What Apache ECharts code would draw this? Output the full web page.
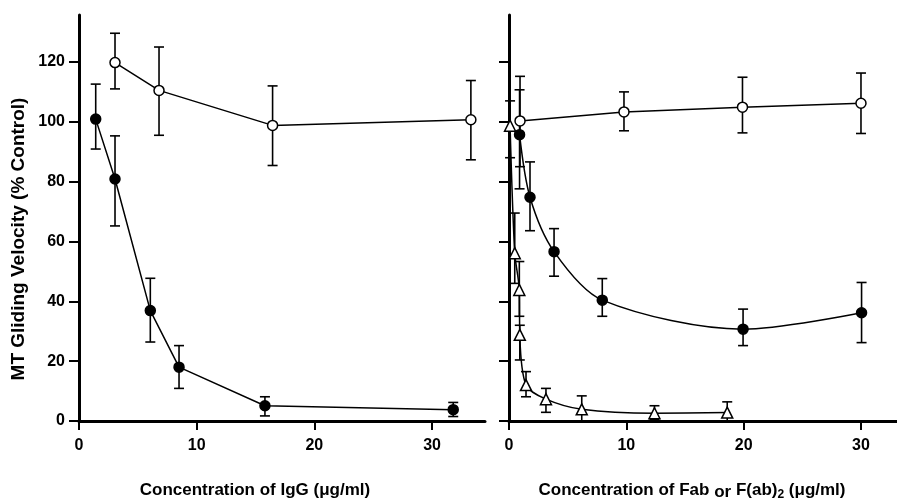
<!DOCTYPE html>
<html>
<head>
<meta charset="utf-8">
<script src="https://cdn.jsdelivr.net/npm/echarts@6/dist/echarts.min.js"></script>
<style>
  html, body { margin: 0; padding: 0; background: #fff; }
  #chart { width: 897px; height: 500px; }
</style>
</head>
<body>
<div id="chart"></div>
<script>
// left panel: IgG
const iggCtrlX = [3.06, 6.8, 16.45, 33.3];
const iggCtrlY = [119.8, 110.5, 98.8, 100.7];
const iggCtrlHi = [129.6, 125, 112, 113.8];
const iggCtrlLo = [111, 95.5, 85.4, 87.3];

const iggAntiX = [1.42, 3.06, 6.06, 8.5, 15.8, 31.8];
const iggAntiY = [100.9, 80.9, 36.9, 18.0, 5.1, 3.8];
const iggAntiHi = [112.6, 95.3, 47.7, 25.2, 8.1, 6.2];
const iggAntiLo = [90.9, 65.2, 26.4, 10.9, 1.7, 1.5];

// right panel: Fab / F(ab)2
const fabCtrlX = [0.94, 9.8, 19.9, 30];
const fabCtrlY = [100.3, 103.3, 104.9, 106.2];
const fabCtrlHi = [115.2, 110, 114.9, 116.3];
const fabCtrlLo = [85, 97, 96.3, 96.1];

const fabAntiX = [0.9, 1.79, 3.84, 7.95, 19.95, 30.05];
const fabAntiY = [95.7, 74.8, 56.6, 40.4, 30.7, 36.2];
const fabAntiHi = [110.7, 86.6, 64.3, 47.6, 37.4, 46.3];
const fabAntiLo = [77.6, 63.6, 48.4, 35.0, 25.2, 26.2];

const fab2X = [0.09, 0.49, 0.88, 0.92, 1.45, 3.15, 6.2, 12.4, 18.6];
const fab2Y = [98.7, 56.1, 43.8, 28.8, 12.0, 7.3, 3.9, 2.6, 2.8];
const fab2Hi = [107, 69.5, 53.3, 32, 16.5, 10.9, 8.4, 5.1, 6.4];
const fab2Lo = [88, 46, 35, 20.4, 8.1, 2.9, 0, 0.5, 0];

const xTicks = [0, 10, 20, 30];
const yTicks = [0, 20, 40, 60, 80, 100, 120];

const FONT = '"Liberation Sans", Arial, sans-serif';

const zip = (xs, ys) => xs.map((x, i) => [x, ys[i]]);
const zip3 = (xs, lo, hi) => xs.map((x, i) => [x, lo[i], hi[i]]);

function errorBars(xi, xs, lo, hi) {
  return {
    type: 'custom',
    xAxisIndex: xi, yAxisIndex: xi,
    z: 1,
    silent: true,
    data: zip3(xs, lo, hi),
    renderItem: (params, api) => {
      const x = api.value(0);
      const a = api.coord([x, api.value(1)]);
      const b = api.coord([x, api.value(2)]);
      const w = 5;
      const st = { stroke: '#000', lineWidth: 1.6 };
      return {
        type: 'group',
        children: [
          { type: 'line', shape: { x1: a[0], y1: a[1], x2: b[0], y2: b[1] }, style: st },
          { type: 'line', shape: { x1: a[0] - w, y1: a[1], x2: a[0] + w, y2: a[1] }, style: st },
          { type: 'line', shape: { x1: b[0] - w, y1: b[1], x2: b[0] + w, y2: b[1] }, style: st }
        ]
      };
    }
  };
}

function lineSeries(xi, xs, ys, symbol, filled, smooth) {
  return {
    type: 'line',
    xAxisIndex: xi, yAxisIndex: xi,
    z: 3,
    data: zip(xs, ys),
    smooth: smooth,
    symbol: symbol,
    symbolSize: symbol === 'triangle' ? 11 : 10,
    showAllSymbol: true,
    lineStyle: { color: '#000', width: 1.5 },
    itemStyle: { color: filled ? '#000' : '#fff', borderColor: '#000', borderWidth: 1.5 },
    emphasis: { disabled: true }
  };
}

function xAxis(gi, max) {
  return {
    type: 'value', gridIndex: gi, min: 0, max: max,
    axisLine: { onZero: false, lineStyle: { color: '#000', width: 3 } },
    axisTick: { length: 9, lineStyle: { color: '#000', width: 2 }, customValues: xTicks },
    axisLabel: { color: '#000', fontSize: 16, fontWeight: 'bold', fontFamily: FONT, margin: 17, customValues: xTicks },
    splitLine: { show: false }
  };
}

function yAxis(gi, labels) {
  return {
    type: 'value', gridIndex: gi, min: 0, max: 135.7,
    axisLine: { show: true, lineStyle: { color: '#000', width: 3 } },
    axisTick: { show: true, length: 10, lineStyle: { color: '#000', width: 2 }, customValues: yTicks },
    axisLabel: { show: labels, color: '#000', fontSize: 16, fontWeight: 'bold', fontFamily: FONT, margin: 14, customValues: yTicks },
    splitLine: { show: false }
  };
}

const chart = echarts.init(document.getElementById('chart'), null, { renderer: 'canvas' });

chart.setOption({
  backgroundColor: '#fff',
  animation: false,
  grid: [
    { left: 79, top: 15, width: 406, height: 406 },
    { left: 509, top: 15, width: 388, height: 406 }
  ],
  xAxis: [xAxis(0, 34.5), xAxis(1, 33.07)],
  yAxis: [yAxis(0, true), yAxis(1, false)],
  series: [
    errorBars(0, iggCtrlX, iggCtrlLo, iggCtrlHi),
    errorBars(0, iggAntiX, iggAntiLo, iggAntiHi),
    lineSeries(0, iggCtrlX, iggCtrlY, 'circle', false, false),
    lineSeries(0, iggAntiX, iggAntiY, 'circle', true, false),
    errorBars(1, fabCtrlX, fabCtrlLo, fabCtrlHi),
    errorBars(1, fabAntiX, fabAntiLo, fabAntiHi),
    errorBars(1, fab2X, fab2Lo, fab2Hi),
    lineSeries(1, fabCtrlX, fabCtrlY, 'circle', false, false),
    lineSeries(1, fabAntiX, fabAntiY, 'circle', true, 0.3),
    lineSeries(1, fab2X, fab2Y, 'triangle', false, 0.3)
  ],
  graphic: [
    {
      type: 'text', x: 19, y: 239, rotation: Math.PI / 2,
      style: {
        text: 'MT Gliding Velocity (% Control)', fill: '#000',
        font: 'bold 19px ' + FONT, align: 'center', verticalAlign: 'middle'
      }
    },
    {
      type: 'text', x: 255, y: 490,
      style: {
        text: 'Concentration of IgG (μg/ml)', fill: '#000',
        font: 'bold 17px ' + FONT, align: 'center', verticalAlign: 'middle'
      }
    },
    {
      type: 'text', x: 692, y: 490,
      style: {
        text: '{a|Concentration of Fab }{b|or}{a| F(ab)}{s|2}{a| (μg/ml)}',
        fill: '#000', align: 'center', verticalAlign: 'middle',
        rich: {
          a: { fontSize: 17, fontWeight: 'bold', fontFamily: FONT, fill: '#000' },
          b: { fontSize: 17, fontWeight: 'bold', fontFamily: FONT, fill: '#000', padding: [4, 0, 0, 0] },
          s: { fontSize: 12, fontWeight: 'bold', fontFamily: FONT, fill: '#000', padding: [9, 0, 0, 0] }
        }
      }
    }
  ]
});

window.addEventListener('resize', () => chart.resize());
</script>
</body>
</html>
